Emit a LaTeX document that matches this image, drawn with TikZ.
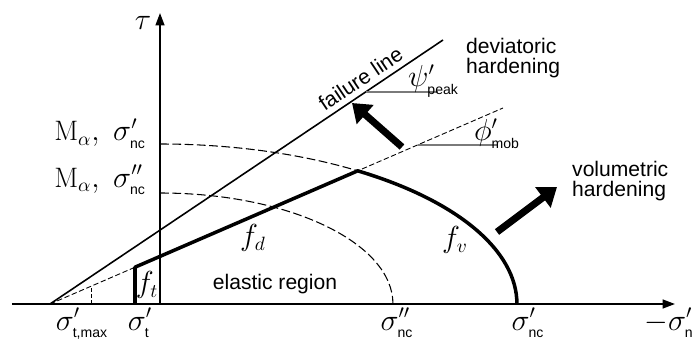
\documentclass[tikz,border=0pt]{standalone}
\usepackage{amsmath}
\usepackage{fontspec}
\setsansfont{Liberation Sans}
\usepackage{tikz}
\usetikzlibrary{arrows.meta}
\definecolor{refgray}{HTML}{7A7A7A}
\newcommand{\subtxt}[1]{{\scriptscriptstyle\textsf{#1}}}

\begin{document}
\begin{tikzpicture}[x=0.02cm, y=0.02cm, font=\sffamily\fontsize{12}{11.5}\selectfont,
  lbl/.style={font=\fontsize{16}{18}\selectfont, inner sep=1pt},
  axis/.style={line width=1pt, -{Triangle[length=7pt, width=5pt]}},
  yieldline/.style={line width=2pt, line join=round},
  capline/.style={line width=0.6pt, dash pattern=on 5pt off 2pt},
  bigarrow/.style={line width=4pt, -{Triangle[length=10pt, width=14pt]}}]
  \useasboundingbox (-160,-34) rectangle (535,304);
  % points of the construction
  \coordinate (O) at (0,0);
  \coordinate (A) at (-110,0);
  \coordinate (xend) at (515,0);
  \coordinate (xstart) at (-148,0);
  \coordinate (yend) at (0,291);
  \coordinate (failend) at (283,264);
  \coordinate (mobend) at (343,196);
  \coordinate (cap) at (56.36:7.14cm and 3.2cm);
  \coordinate (tbot) at (-25,0);
  \coordinate (ttop) at (-25,36.8);
  \coordinate (mbot) at (-69,0);
  \coordinate (mtop) at (-69,17.7);
  \coordinate (nctop) at (0,160);
  \coordinate (ncctop) at (0,111);
  % axes
  \draw[axis] (xstart) -- (xend);
  \draw[axis] (O) -- (yend);
  % failure line and mobilised line
  \draw[line width=0.9pt] (A) -- (failend);
  \draw[line width=0.5pt, dash pattern=on 3pt off 1.5pt] (A) -- (mobend);
  \draw[line width=0.5pt, dash pattern=on 2pt off 1.5pt] (mbot) -- (mtop);
  % caps
  \draw[capline] (nctop) arc[start angle=90, end angle=56.36, x radius=7.14cm, y radius=3.2cm];
  \draw[capline] (ncctop) arc[start angle=90, end angle=0, x radius=4.66cm, y radius=2.22cm];
  % yield surface
  \draw[yieldline] (tbot) -- (ttop) -- (cap)
    arc[start angle=56.36, end angle=0, x radius=7.14cm, y radius=3.2cm];
  % friction angles
  \coordinate (pk1) at (205.6,212);
  \coordinate (pk2) at (278,212);
  \coordinate (mb1) at (257.5,159);
  \coordinate (mb2) at (338,159);
  \draw[refgray, line width=0.6pt] (pk1) -- (pk2);
  \draw[refgray, line width=0.6pt] (mb1) -- (mb2);
  % hardening arrows
  \coordinate (dv1) at (242,157);
  \coordinate (dv2) at (192,201);
  \coordinate (vl1) at (337,72);
  \coordinate (vl2) at (397,117);
  \draw[bigarrow] (dv1) -- (dv2);
  \draw[bigarrow] (vl1) -- (vl2);
  % labels
  \node[lbl, anchor=base] (tau) at (-17,274) {$\tau$};
  \node[lbl, anchor=base east] (mnc) at (-12,163) {$\mathrm{M}_\alpha,\ \sigma'_\subtxt{nc}$};
  \node[lbl, anchor=base east] (mncc) at (-12,117) {$\mathrm{M}_\alpha,\ \sigma''_\subtxt{nc}$};
  \node[lbl, anchor=base] (stmax) at (-78,-26) {$\sigma'_\subtxt{t,max}$};
  \node[lbl, anchor=base] (st) at (-20,-26) {$\sigma'_\subtxt{t}$};
  \node[lbl, anchor=base] (sncc) at (237,-26) {$\sigma''_\subtxt{nc}$};
  \node[lbl, anchor=base] (snc) at (368,-26) {$\sigma'_\subtxt{nc}$};
  \node[lbl, anchor=base] (sn) at (509,-26) {$-\sigma'_\subtxt{n}$};
  \path (A) -- (failend) node[pos=0.81, sloped, above] (failtxt) {failure line};
  \node[anchor=west, align=left] (devtxt) at (300,246) {deviatoric\\hardening};
  \node[anchor=west, align=left] (voltxt) at (406,123) {volumetric\\hardening};
  \node[lbl, anchor=base west] (phipeak) at (246,217) {$\psi'_\subtxt{peak}$};
  \node[lbl, anchor=base west] (phimob) at (312,163) {$\phi'_\subtxt{mob}$};
  \node[lbl] (ft) at (-13,19) {$f_t$};
  \node[lbl] (fd) at (93,66) {$f_d$};
  \node[lbl] (fv) at (295,64) {$f_v$};
  \node (elastic) at (115,20) {elastic region};
\end{tikzpicture}
\end{document}
